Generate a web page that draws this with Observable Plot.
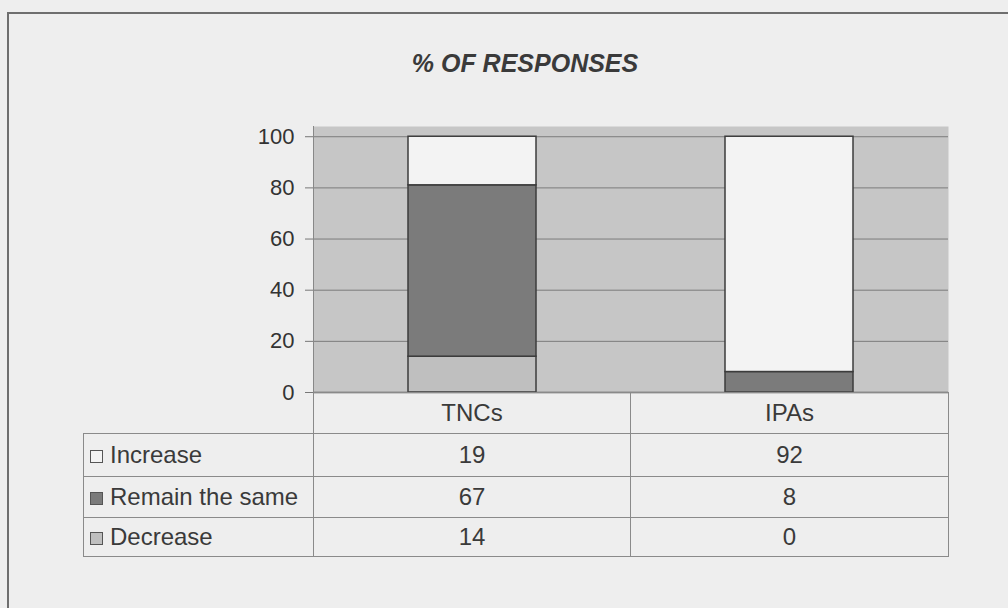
<!DOCTYPE html>
<html><head><meta charset="utf-8">
<script src="https://cdn.jsdelivr.net/npm/d3@7"></script>
<script src="https://cdn.jsdelivr.net/npm/@observablehq/plot@0.6"></script>
<style>
html,body{margin:0;padding:0;background:#eeeeee;overflow:hidden;}
#wrap{position:relative;width:1008px;height:608px;font-family:"Liberation Sans",Arial,sans-serif;color:#333;}
#frame{position:absolute;left:7px;top:12px;width:1040px;height:640px;border-left:2px solid #6e6e6e;border-top:2px solid #6e6e6e;}
#title{position:absolute;top:49px;left:0;width:1050px;text-align:center;font-weight:bold;font-style:italic;font-size:25px;color:#3a3a3a;}
#chart{position:absolute;left:0;top:0;}
#tbl{position:absolute;left:83px;top:392px;border-collapse:collapse;table-layout:fixed;font-size:24px;color:#3a3a3a;}
#tbl td{border:1px solid #8a8a8a;padding:0;text-align:center;vertical-align:middle;white-space:nowrap;}
#tbl td.lab{text-align:left;padding-left:6px;}
#tbl td.blank{border-left:none;border-top:none;}
.sw{display:inline-block;width:11px;height:11px;border:1.5px solid #555;margin-right:7px;vertical-align:0px;}
</style></head>
<body>
<div id="wrap">
  <div id="frame"></div>
  <div id="title">% OF RESPONSES</div>
  <div id="chart"></div>
  <table id="tbl"></table>
</div>
<script>
const groups = ["TNCs", "IPAs"];
const categories = ["Decrease", "Remain the same", "Increase"];
const decrease = [14, 0];
const remain = [67, 8];
const increase = [19, 92];
const yTicks = [0, 20, 40, 60, 80, 100];
const fills = ["#bfbfbf", "#7b7b7b", "#f3f3f3"];
const tableOrder = ["Increase", "Remain the same", "Decrease"];

const seriesByCat = {"Decrease": decrease, "Remain the same": remain, "Increase": increase};
const rows = [];
groups.forEach((g, i) => {
  categories.forEach(c => rows.push({group: g, category: c, value: seriesByCat[c][i]}));
});

const chart = Plot.plot({
  width: 1008, height: 410,
  marginLeft: 313, marginRight: 60, marginTop: 126, marginBottom: 18,
  style: {background: "transparent", fontFamily: "Liberation Sans, Arial, sans-serif", color: "#333"},
  x: {domain: groups, paddingInner: 0.597, paddingOuter: 0.2985, axis: null},
  y: {domain: [0, 104], axis: null},
  color: {domain: categories, range: fills},
  marks: [
    Plot.frame({fill: "#c6c6c6", stroke: null}),
    Plot.ruleY(yTicks.slice(1), {stroke: "#7c7c7c", strokeWidth: 1}),
    Plot.axisY({ticks: yTicks, tickSize: 8, tickPadding: 11, fontSize: 22, stroke: "#777", label: null}),
    Plot.barY(rows.filter(d => d.value > 0), {x: "group", y: "value", fill: "category", stroke: "#3c3c3c", strokeWidth: 1.5}),
    Plot.ruleY([0], {stroke: "#555", strokeWidth: 1.5}),
    Plot.frame({anchor: "left", stroke: "#888"})
  ]
});
document.getElementById("chart").appendChild(chart);

// data table
const tbl = document.getElementById("tbl");
const colW = [230, 317, 318];
const cg = document.createElement("colgroup");
colW.forEach(w => { const c = document.createElement("col"); c.style.width = w + "px"; cg.appendChild(c); });
tbl.appendChild(cg);
const hdr = document.createElement("tr");
hdr.style.height = "41px";
const blank = document.createElement("td"); blank.className = "blank"; hdr.appendChild(blank);
groups.forEach(g => { const td = document.createElement("td"); td.textContent = g; hdr.appendChild(td); });
tbl.appendChild(hdr);
const rowH = [43, 41, 39];
tableOrder.forEach((c, r) => {
  const tr = document.createElement("tr");
  tr.style.height = rowH[r] + "px";
  const lab = document.createElement("td"); lab.className = "lab";
  const sw = document.createElement("span"); sw.className = "sw";
  sw.style.background = fills[categories.indexOf(c)];
  lab.appendChild(sw); lab.appendChild(document.createTextNode(c));
  tr.appendChild(lab);
  groups.forEach((g, i) => { const td = document.createElement("td"); td.textContent = seriesByCat[c][i]; tr.appendChild(td); });
  tbl.appendChild(tr);
});
</script>
</body></html>
